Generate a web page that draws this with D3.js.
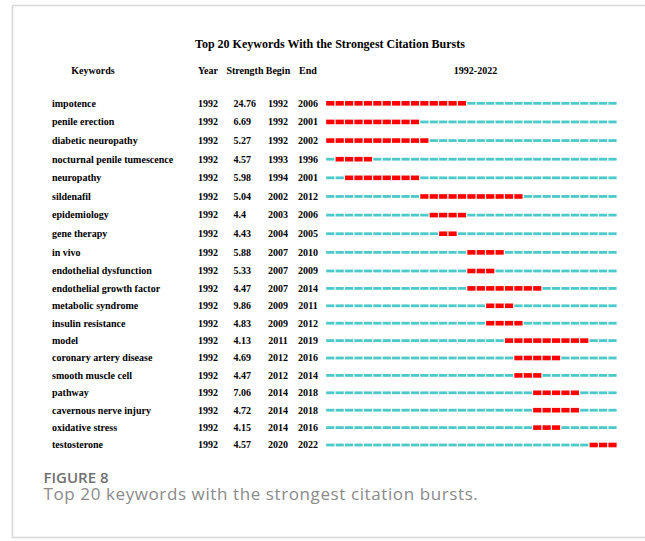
<!DOCTYPE html>
<html>
<head>
<meta charset="utf-8">
<script src="https://cdn.jsdelivr.net/npm/d3@7"></script>
<style>
  html, body { margin: 0; padding: 0; background: #ffffff; }
  svg { display: block; }
</style>
</head>
<body>
<svg id="chart" width="645" height="541"></svg>
<script>
// ---- data ----
const keywords = [
  "impotence", "penile erection", "diabetic neuropathy", "nocturnal penile tumescence",
  "neuropathy", "sildenafil", "epidemiology", "gene therapy", "in vivo",
  "endothelial dysfunction", "endothelial growth factor", "metabolic syndrome",
  "insulin resistance", "model", "coronary artery disease", "smooth muscle cell",
  "pathway", "cavernous nerve injury", "oxidative stress", "testosterone"
];
const firstYears = [1992,1992,1992,1992,1992,1992,1992,1992,1992,1992,1992,1992,1992,1992,1992,1992,1992,1992,1992,1992];
const strengths = [24.76, 6.69, 5.27, 4.57, 5.98, 5.04, 4.4, 4.43, 5.88, 5.33, 4.47, 9.86, 4.83, 4.13, 4.69, 4.47, 7.06, 4.72, 4.15, 4.57];
const begins = [1992,1992,1992,1993,1994,2002,2003,2004,2007,2007,2007,2009,2009,2011,2012,2012,2014,2014,2014,2020];
const ends   = [2006,2001,2002,1996,2001,2012,2006,2005,2010,2009,2014,2011,2012,2019,2016,2014,2018,2018,2016,2022];
const headers = ["Keywords", "Year", "Strength", "Begin", "End"];
const periodStart = 1992, periodEnd = 2022;
const titleText = "Top 20 Keywords With the Strongest Citation Bursts";
const figLabel = "FIGURE 8";
const figCaption = "Top 20 keywords with the strongest citation bursts.";

// ---- layout ----
const svg = d3.select("#chart");
const serif = "'Liberation Serif', 'Times New Roman', serif";
const sans = "'Open Sans', 'Noto Sans', sans-serif";
const RED = "#ff0000", CYAN = "#4dc9c9";

// card frame
svg.append("rect")
  .attr("x", 12.5).attr("y", 5.5).attr("width", 660).attr("height", 532)
  .attr("fill", "#fff").attr("stroke", "#d9d9d9").attr("stroke-width", 1.6);

const years = d3.range(periodStart, periodEnd + 1);
const x = d3.scaleBand().domain(years).range([325.7, 617.3]).paddingInner(0);
const y = d3.scaleLinear().domain([0, 9, keywords.length - 1]).range([103.3, 271, 445]);

// title
svg.append("text")
  .attr("x", 330).attr("y", 47.5)
  .attr("text-anchor", "middle")
  .attr("font-family", serif).attr("font-weight", "bold").attr("font-size", 12)
  .attr("fill", "#000").text(titleText);

// headers
const headerY = 73.5;
const colDefs = [
  { x: 93, anchor: "middle" },
  { x: 208, anchor: "middle" },
  { x: 245, anchor: "middle" },
  { x: 278, anchor: "middle" },
  { x: 299, anchor: "start" }
];
headers.forEach((h, i) => {
  svg.append("text")
    .attr("x", colDefs[i].x).attr("y", headerY)
    .attr("text-anchor", colDefs[i].anchor)
    .attr("font-family", serif).attr("font-weight", "bold").attr("font-size", 10)
    .attr("fill", "#000").text(h);
});
svg.append("text")
  .attr("x", (x.range()[0] + x.range()[1]) / 2 + 4).attr("y", headerY)
  .attr("text-anchor", "middle")
  .attr("font-family", serif).attr("font-weight", "bold").attr("font-size", 10)
  .attr("fill", "#000").text(periodStart + "-" + periodEnd);

// rows
const rows = svg.append("g").selectAll("g.row")
  .data(keywords.map((k, i) => ({ k, i })))
  .join("g").attr("class", "row");

const txt = (sel) => sel.attr("font-family", serif).attr("font-weight", "bold")
  .attr("font-size", 10).attr("fill", "#000").attr("dy", "0.33em");

rows.append("text").call(txt).attr("x", 52).attr("y", d => y(d.i)).text(d => d.k);
rows.append("text").call(txt).attr("x", 208).attr("text-anchor", "middle")
  .attr("y", d => y(d.i)).text(d => firstYears[d.i]);
rows.append("text").call(txt).attr("x", 233.5)
  .attr("y", d => y(d.i)).text(d => String(strengths[d.i]));
rows.append("text").call(txt).attr("x", 278).attr("text-anchor", "middle")
  .attr("y", d => y(d.i)).text(d => begins[d.i]);
rows.append("text").call(txt).attr("x", 308).attr("text-anchor", "middle")
  .attr("y", d => y(d.i)).text(d => ends[d.i]);

// burst cells
rows.each(function(d) {
  const g = d3.select(this);
  const isBurst = yr => yr >= begins[d.i] && yr <= ends[d.i];
  g.selectAll("rect").data(years).join("rect")
    .attr("x", yr => x(yr) + 0.5)
    .attr("width", x.bandwidth() - 1.2)
    .attr("y", yr => y(d.i) - (isBurst(yr) ? 2.3 : 1.4))
    .attr("height", yr => isBurst(yr) ? 4.6 : 2.8)
    .attr("fill", yr => isBurst(yr) ? RED : CYAN);
});

// caption
svg.append("text")
  .attr("x", 43.5).attr("y", 482.5)
  .attr("font-family", sans).attr("font-size", 15).attr("font-weight", 600)
  .attr("fill", "#707070").text(figLabel);
svg.append("text")
  .attr("x", 43.5).attr("y", 499.5)
  .attr("font-family", sans).attr("font-size", 17)
  .attr("letter-spacing", 0.6)
  .attr("fill", "#8a8a8a").text(figCaption);
</script>
</body>
</html>
